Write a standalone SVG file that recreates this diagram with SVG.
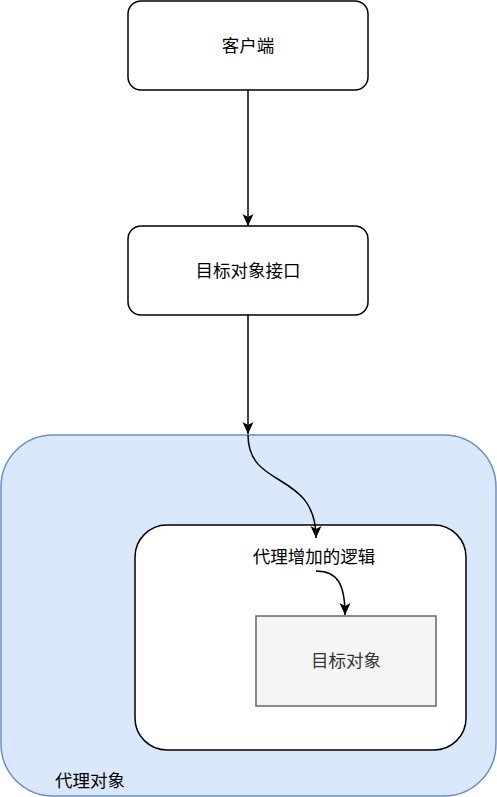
<svg xmlns="http://www.w3.org/2000/svg" width="497" height="797" viewBox="0 0 497 797">
<style>
text{font-family:"Liberation Sans","Noto Sans CJK SC",sans-serif;font-size:17.5px;text-anchor:middle;dominant-baseline:central;fill:#000}
.box{fill:#fff;stroke:#000;stroke-width:1.5}
.edge{fill:none;stroke:#000;stroke-width:1.5}
</style>
<defs>
<marker id="arr" viewBox="0 0 12 12" refX="12" refY="6" markerWidth="12" markerHeight="12" markerUnits="userSpaceOnUse" orient="auto">
<path d="M0,0.5 L12,6 L0,11.5 L3,6 Z" fill="#000"/>
</marker>
</defs>
<g id="proxy">
<rect x="1" y="435" width="495" height="361" rx="52" ry="52" fill="#dae8fc" stroke="#6c8ebf" stroke-width="1.5"/>
<text x="90" y="781">代理对象</text>
</g>
<g id="client">
<rect class="box" x="128" y="1" width="240" height="89" rx="13" ry="13"/>
<text x="248" y="46">客户端</text>
</g>
<g id="iface">
<rect class="box" x="128" y="226" width="240" height="89" rx="13" ry="13"/>
<text x="248" y="271">目标对象接口</text>
</g>
<g id="logic">
<rect class="box" x="135" y="525" width="331" height="225" rx="32" ry="32"/>
<text x="314" y="557">代理增加的逻辑</text>
</g>
<g id="target">
<rect x="256" y="616" width="180" height="90" fill="#f5f5f5" stroke="#666666" stroke-width="1.5"/>
<text x="346" y="661" style="fill:#333333">目标对象</text>
</g>
<g id="connectors">
<path class="edge" d="M248,90 L248,226" marker-end="url(#arr)"/>
<path class="edge" d="M248,315 L248,434" marker-end="url(#arr)"/>
<path class="edge" d="M248,435 C248,490 316,470 316,538" marker-end="url(#arr)"/>
<path class="edge" d="M316,571 C338,571 345,585 345,615" marker-end="url(#arr)"/>
</g>
</svg>
